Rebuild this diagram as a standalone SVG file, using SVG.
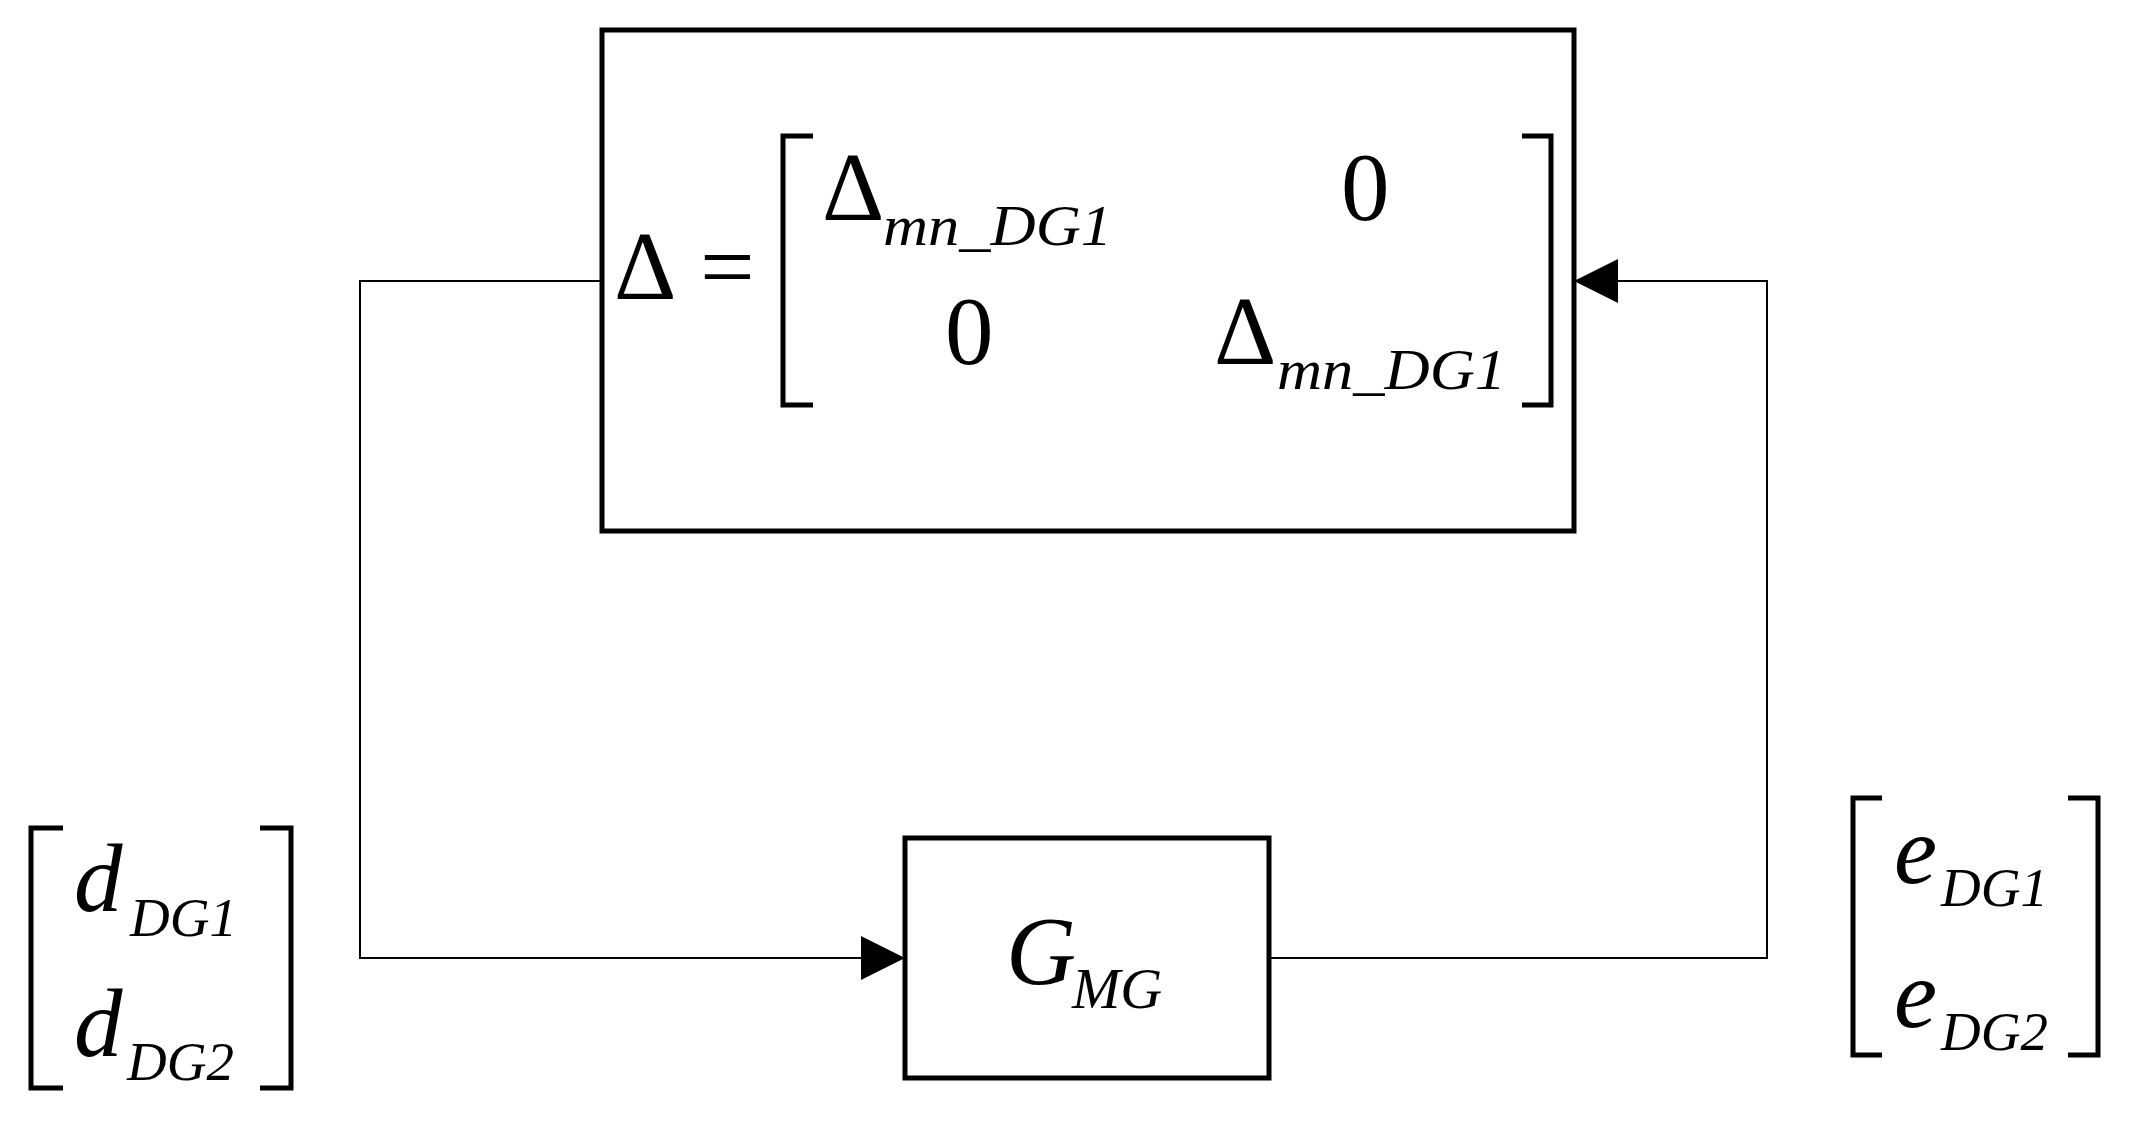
<svg xmlns="http://www.w3.org/2000/svg" width="2131" height="1121" viewBox="0 0 2131 1121">
<style>
.box{fill:none;stroke:#000;stroke-width:5}
.ln{fill:none;stroke:#000;stroke-width:2}
.br{fill:none;stroke:#000;stroke-width:5}
.t{font-family:"Liberation Serif",serif;fill:#000}
.i{font-style:italic}
</style>
<defs>
<marker id="ah" markerUnits="userSpaceOnUse" markerWidth="44" markerHeight="44" refX="44" refY="22" orient="auto">
<path d="M0,0 L44,22 L0,44 Z" fill="#000"/>
</marker>
</defs>
<rect width="2131" height="1121" fill="#fff"/>
<g id="connectors">
<path class="ln" d="M602,281 H360 V958 H905" marker-end="url(#ah)"/>
<path class="ln" d="M1269,958 H1767 V281 H1574" marker-end="url(#ah)"/>
</g>
<g id="delta-block">
<rect class="box" x="602" y="30" width="972" height="501"/>
<text class="t" x="614" y="299" font-size="97">Δ</text>
<text class="t" x="700" y="299" font-size="97">=</text>
<path class="br" d="M813,136 H783 V405 H813"/>
<path class="br" d="M1522,136 H1551 V405 H1522"/>
<text class="t" x="822" y="220" font-size="97">Δ</text>
<text class="t i" x="883" y="245" font-size="56" textLength="229" lengthAdjust="spacingAndGlyphs">mn_DG1</text>
<text class="t" x="1341" y="220" font-size="97">0</text>
<text class="t" x="945" y="364" font-size="97">0</text>
<text class="t" x="1214" y="364" font-size="97">Δ</text>
<text class="t i" x="1277" y="389" font-size="56" textLength="229" lengthAdjust="spacingAndGlyphs">mn_DG1</text>
</g>
<g id="gmg-block">
<rect class="box" x="905" y="838" width="364" height="240"/>
<text class="t i" x="1006" y="984" font-size="97">G</text>
<text class="t i" x="1072" y="1008" font-size="58">MG</text>
</g>
<g id="d-vector">
<path class="br" d="M63,828 H31 V1088 H63"/>
<path class="br" d="M260,828 H291 V1088 H260"/>
<text class="t i" x="74" y="911" font-size="97">d</text>
<text class="t i" x="130" y="936" font-size="55">DG1</text>
<text class="t i" x="74" y="1056" font-size="97">d</text>
<text class="t i" x="127" y="1080" font-size="55">DG2</text>
</g>
<g id="e-vector">
<path class="br" d="M1882,798 H1853 V1055 H1882"/>
<path class="br" d="M2068,798 H2098 V1055 H2068"/>
<text class="t i" x="1894" y="883" font-size="97">e</text>
<text class="t i" x="1941" y="906" font-size="55">DG1</text>
<text class="t i" x="1894" y="1027" font-size="97">e</text>
<text class="t i" x="1941" y="1050" font-size="55">DG2</text>
</g>
</svg>
